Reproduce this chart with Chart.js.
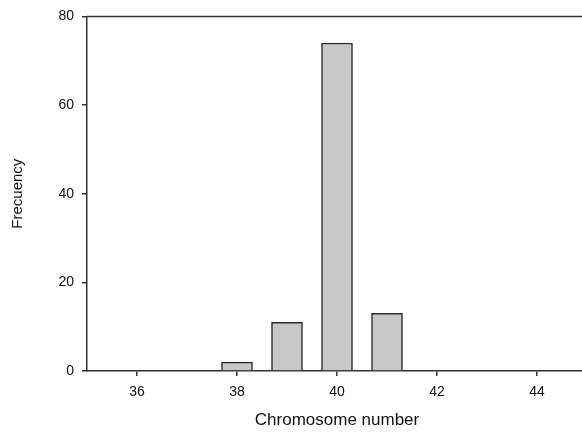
<!DOCTYPE html>
<html>
<head>
<meta charset="utf-8">
<script src="https://cdn.jsdelivr.net/npm/chart.js@4/dist/chart.umd.min.js"></script>
<style>
  html, body { margin: 0; padding: 0; background: #fff; overflow: hidden; }
  #wrap { width: 600px; height: 434px; }
</style>
</head>
<body>
<div id="wrap"><canvas id="histChart" width="600" height="434"></canvas></div>
<script>
// Chromosome counts (x) and how often each was seen (y)
var chromosomes = [38, 39, 40, 41];
var frequency = [2, 11, 74, 13];
var xTicks = [36, 38, 40, 42, 44];
var yTicks = [0, 20, 40, 60, 80];

var points = chromosomes.map(function (c, i) {
  return { x: c, y: frequency[i] };
});

// closes the frame along the top edge
var topLine = {
  id: 'topLine',
  afterDraw: function (chart) {
    var a = chart.chartArea, ctx = chart.ctx;
    ctx.save();
    ctx.strokeStyle = '#333';
    ctx.lineWidth = 1.5;
    ctx.beginPath();
    ctx.moveTo(a.left, a.top);
    ctx.lineTo(a.right, a.top);
    ctx.stroke();
    ctx.restore();
  }
};

Chart.defaults.font.family = '"Liberation Sans", Arial, sans-serif';
Chart.defaults.color = '#111';

var ctx = document.getElementById('histChart').getContext('2d');
var histChart = new Chart(ctx, {
  type: 'bar',
  data: {
    datasets: [{
      data: points,
      backgroundColor: '#c8c8c8',
      borderColor: '#2a2a2a',
      borderWidth: 1.5,
      barThickness: 31
    }]
  },
  plugins: [topLine],
  options: {
    responsive: false,
    animation: false,
    layout: { padding: { top: 14, right: 13, left: 0, bottom: 0 } },
    plugins: { legend: { display: false }, tooltip: { enabled: false } },
    scales: {
      x: {
        type: 'linear',
        min: 35,
        max: 45,
        offset: false,
        afterBuildTicks: function (scale) {
          scale.ticks = xTicks.map(function (v) { return { value: v }; });
        },
        afterFit: function (scale) { scale.height = 63; },
        grid: { offset: false, drawOnChartArea: false, tickLength: 5, color: '#333', lineWidth: 1.5 },
        border: { color: '#333', width: 1.5 },
        ticks: { font: { size: 14 }, padding: 8, maxRotation: 0 },
        title: { display: true, text: 'Chromosome number', font: { size: 17 }, padding: { top: 0, bottom: 3 } }
      },
      y: {
        min: 0,
        max: 80,
        afterBuildTicks: function (scale) {
          scale.ticks = yTicks.map(function (v) { return { value: v }; });
        },
        afterFit: function (scale) { scale.width = 87; },
        grid: { drawOnChartArea: false, tickLength: 5, color: '#333', lineWidth: 1.5 },
        border: { color: '#333', width: 1.5 },
        ticks: { font: { size: 14 }, padding: 8 },
        title: { display: true, text: 'Frecuency', font: { size: 15 }, padding: { top: 9, bottom: 0 } }
      }
    }
  }
});
</script>
</body>
</html>
